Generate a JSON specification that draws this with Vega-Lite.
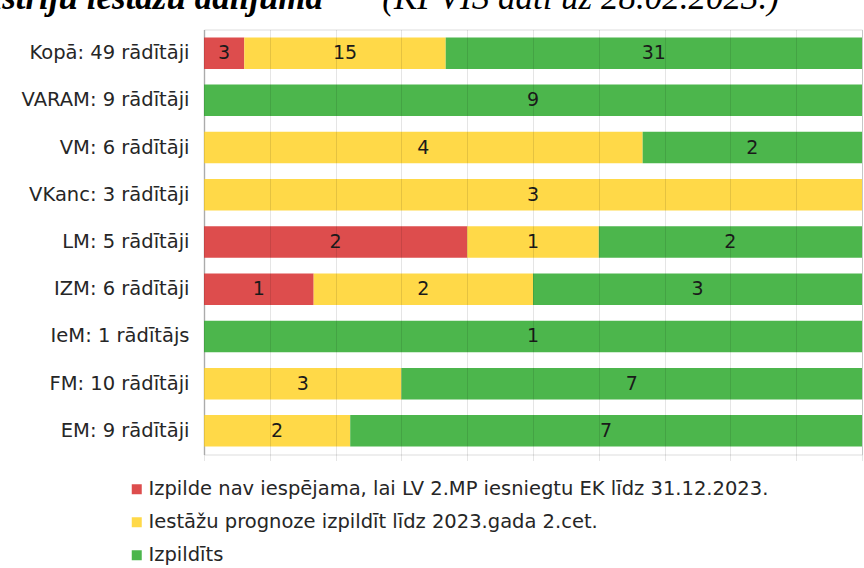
{
  "$schema": "https://vega.github.io/schema/vega-lite/v6.json",
  "width": 658,
  "height": 425,
  "autosize": "none",
  "padding": {"left": 204, "top": 29.5, "right": 2, "bottom": 113.5},
  "background": "white",
  "title": {
    "text": "ministriju iestāžu dalījumā\u201d",
    "subtitle": "\u200b\u00a0\u00a0\u00a0\u00a0\u00a0\u00a0\u00a0\u00a0\u00a0\u00a0\u00a0\u00a0\u00a0\u00a0\u00a0\u00a0\u00a0\u00a0\u00a0\u00a0\u00a0\u00a0\u00a0\u00a0\u00a0\u00a0\u00a0\u00a0\u00a0\u00a0\u00a0\u00a0\u00a0\u00a0\u00a0\u00a0\u00a0\u00a0\u00a0\u00a0\u00a0\u00a0\u00a0\u00a0\u00a0\u00a0\u00a0\u00a0\u00a0\u00a0\u00a0(KPVIS dati uz 28.02.2023.)",
    "anchor": "start",
    "frame": "group",
    "dx": -268,
    "offset": 14,
    "font": "Liberation Serif",
    "fontSize": 35,
    "fontStyle": "italic",
    "fontWeight": "bold",
    "color": "black",
    "subtitleFont": "Liberation Serif",
    "subtitleFontSize": 35,
    "subtitleFontStyle": "italic",
    "subtitleFontWeight": "normal",
    "subtitleColor": "black",
    "subtitlePadding": -35
  },
  "data": {
    "values": [
      {"label": "Kopā: 49 rādītāji", "status": "Izpilde nav iespējama, lai LV 2.MP iesniegtu EK līdz 31.12.2023.", "ord": 1, "value": 3},
      {"label": "Kopā: 49 rādītāji", "status": "Iestāžu prognoze izpildīt līdz 2023.gada 2.cet.", "ord": 2, "value": 15},
      {"label": "Kopā: 49 rādītāji", "status": "Izpildīts", "ord": 3, "value": 31},
      {"label": "VARAM: 9 rādītāji", "status": "Izpilde nav iespējama, lai LV 2.MP iesniegtu EK līdz 31.12.2023.", "ord": 1, "value": 0},
      {"label": "VARAM: 9 rādītāji", "status": "Iestāžu prognoze izpildīt līdz 2023.gada 2.cet.", "ord": 2, "value": 0},
      {"label": "VARAM: 9 rādītāji", "status": "Izpildīts", "ord": 3, "value": 9},
      {"label": "VM: 6 rādītāji", "status": "Izpilde nav iespējama, lai LV 2.MP iesniegtu EK līdz 31.12.2023.", "ord": 1, "value": 0},
      {"label": "VM: 6 rādītāji", "status": "Iestāžu prognoze izpildīt līdz 2023.gada 2.cet.", "ord": 2, "value": 4},
      {"label": "VM: 6 rādītāji", "status": "Izpildīts", "ord": 3, "value": 2},
      {"label": "VKanc: 3 rādītāji", "status": "Izpilde nav iespējama, lai LV 2.MP iesniegtu EK līdz 31.12.2023.", "ord": 1, "value": 0},
      {"label": "VKanc: 3 rādītāji", "status": "Iestāžu prognoze izpildīt līdz 2023.gada 2.cet.", "ord": 2, "value": 3},
      {"label": "VKanc: 3 rādītāji", "status": "Izpildīts", "ord": 3, "value": 0},
      {"label": "LM: 5 rādītāji", "status": "Izpilde nav iespējama, lai LV 2.MP iesniegtu EK līdz 31.12.2023.", "ord": 1, "value": 2},
      {"label": "LM: 5 rādītāji", "status": "Iestāžu prognoze izpildīt līdz 2023.gada 2.cet.", "ord": 2, "value": 1},
      {"label": "LM: 5 rādītāji", "status": "Izpildīts", "ord": 3, "value": 2},
      {"label": "IZM: 6 rādītāji", "status": "Izpilde nav iespējama, lai LV 2.MP iesniegtu EK līdz 31.12.2023.", "ord": 1, "value": 1},
      {"label": "IZM: 6 rādītāji", "status": "Iestāžu prognoze izpildīt līdz 2023.gada 2.cet.", "ord": 2, "value": 2},
      {"label": "IZM: 6 rādītāji", "status": "Izpildīts", "ord": 3, "value": 3},
      {"label": "IeM: 1 rādītājs", "status": "Izpilde nav iespējama, lai LV 2.MP iesniegtu EK līdz 31.12.2023.", "ord": 1, "value": 0},
      {"label": "IeM: 1 rādītājs", "status": "Iestāžu prognoze izpildīt līdz 2023.gada 2.cet.", "ord": 2, "value": 0},
      {"label": "IeM: 1 rādītājs", "status": "Izpildīts", "ord": 3, "value": 1},
      {"label": "FM: 10 rādītāji", "status": "Izpilde nav iespējama, lai LV 2.MP iesniegtu EK līdz 31.12.2023.", "ord": 1, "value": 0},
      {"label": "FM: 10 rādītāji", "status": "Iestāžu prognoze izpildīt līdz 2023.gada 2.cet.", "ord": 2, "value": 3},
      {"label": "FM: 10 rādītāji", "status": "Izpildīts", "ord": 3, "value": 7},
      {"label": "EM: 9 rādītāji", "status": "Izpilde nav iespējama, lai LV 2.MP iesniegtu EK līdz 31.12.2023.", "ord": 1, "value": 0},
      {"label": "EM: 9 rādītāji", "status": "Iestāžu prognoze izpildīt līdz 2023.gada 2.cet.", "ord": 2, "value": 2},
      {"label": "EM: 9 rādītāji", "status": "Izpildīts", "ord": 3, "value": 7}
    ]
  },
  "transform": [
    {"stack": "value", "groupby": ["label"], "sort": [{"field": "ord"}], "offset": "normalize", "as": ["x0", "x1"]},
    {"calculate": "(datum.x0 + datum.x1) / 2", "as": "xm"}
  ],
  "encoding": {
    "y": {
      "field": "label",
      "type": "nominal",
      "sort": ["Kopā: 49 rādītāji", "VARAM: 9 rādītāji", "VM: 6 rādītāji", "VKanc: 3 rādītāji", "LM: 5 rādītāji", "IZM: 6 rādītāji", "IeM: 1 rādītājs", "FM: 10 rādītāji", "EM: 9 rādītāji"],
      "scale": {"paddingInner": 0.333, "paddingOuter": 0.167},
      "axis": {
        "title": null,
        "ticks": false,
        "labelPadding": 15,
        "labelFont": "DejaVu Sans",
        "labelFontSize": 19.5,
        "labelColor": "#262626",
        "labelLimit": 300,
        "domainColor": "#bfbfbf",
        "domainWidth": 1.5
      }
    }
  },
  "layer": [
    {
      "mark": {"type": "bar"},
      "encoding": {
        "x": {
          "field": "x0",
          "type": "quantitative",
          "scale": {"domain": [0, 1], "nice": false},
          "axis": {
            "title": null,
            "values": [0, 0.1, 0.2, 0.3, 0.4, 0.5, 0.6, 0.7, 0.8, 0.9, 1],
            "labels": false,
            "domain": false,
            "grid": true,
            "gridColor": "#000000",
            "gridOpacity": 0.1,
            "ticks": true,
            "tickColor": "#000000",
            "tickOpacity": 0.1,
            "tickSize": 6,
            "zindex": 1
          }
        },
        "x2": {"field": "x1"},
        "color": {
          "field": "status",
          "type": "nominal",
          "scale": {
            "domain": ["Izpilde nav iespējama, lai LV 2.MP iesniegtu EK līdz 31.12.2023.", "Iestāžu prognoze izpildīt līdz 2023.gada 2.cet.", "Izpildīts"],
            "range": ["#dd4d4d", "#ffd948", "#4cb64c"]
          },
          "legend": {
            "title": null,
            "orient": "none",
            "legendX": -77,
            "legendY": 450,
            "direction": "vertical",
            "symbolType": "square",
            "symbolSize": 100,
            "symbolStrokeWidth": 0,
            "labelFont": "DejaVu Sans",
            "labelFontSize": 19.5,
            "labelColor": "#262626",
            "labelOffset": 2,
            "labelLimit": 800,
            "rowPadding": 12
          }
        }
      }
    },
    {
      "transform": [{"filter": "datum.value > 0"}],
      "mark": {"type": "text", "font": "DejaVu Sans", "fontSize": 19, "color": "#1a1a1a"},
      "encoding": {
        "x": {"field": "xm", "type": "quantitative"},
        "text": {"field": "value", "type": "quantitative"}
      }
    }
  ]
}
